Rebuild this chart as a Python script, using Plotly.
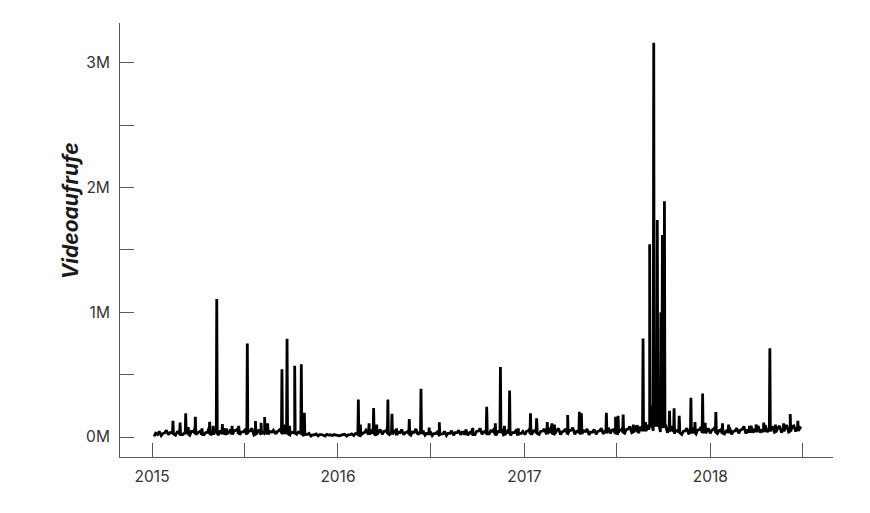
import pandas as pd
import plotly.graph_objects as go

# Weekly baseline of daily video views (thousands), starting 2015-01-05
base_start = "2015-01-05"
base_views_k = [
    # 2015
    5, 20, 12, 35, 18, 40, 15, 45, 20, 38, 14, 42, 25,
    48, 18, 40, 22, 45, 15, 50, 20, 40, 25, 55, 18,
    42, 20, 50, 15, 38, 22, 45, 18, 40, 25, 50, 20, 45,
    18, 40, 22, 35, 12, 22, 8, 18, 10, 20, 8, 16, 12, 18,
    # 2016
    10, 18, 8, 20, 12, 30, 15, 35, 20, 45, 18, 40, 22,
    45, 20, 38, 15, 35, 18, 40, 15, 38, 20, 42, 15,
    30, 12, 28, 10, 25, 12, 30, 15, 35, 18, 40, 15, 45,
    20, 48, 22, 50, 25, 45, 20, 50, 18, 42, 15, 35, 12, 30,
    # 2017
    20, 50, 25, 55, 22, 48, 28, 60, 25, 55, 20, 50, 28,
    55, 22, 50, 25, 45, 18, 40, 22, 50, 25, 55, 30,
    60, 28, 55, 30, 65, 35, 70, 40, 80, 45, 90, 50, 85,
    40, 75, 35, 60, 25, 55, 20, 50, 22, 55, 25, 60, 28, 45,
    # 2018
    30, 65, 28, 60, 25, 55, 22, 50, 30, 65, 28, 70, 35,
    75, 35, 80, 40, 70, 38, 75, 35, 80, 40, 85, 45, 70,
]

# Mid-week readings (thousands), starting 2015-01-08
mid_start = "2015-01-08"
mid_views_k = [
    # 2015
    30, 45, 28, 55, 35, 60, 40, 70, 30, 55, 45, 65, 38,
    60, 35, 75, 40, 55, 45, 70, 35, 60, 50, 65, 40,
    55, 45, 70, 35, 60, 40, 75, 45, 55, 38, 65, 42, 60,
    35, 55, 40, 50, 22, 30, 18, 25, 20, 15, 22, 18, 20, 15,
    # 2016
    15, 22, 18, 25, 28, 45, 30, 55, 40, 65, 35, 60, 45,
    70, 35, 55, 40, 60, 35, 55, 40, 65, 35, 50, 30,
    45, 28, 40, 25, 45, 30, 50, 35, 55, 40, 60, 35, 65,
    45, 70, 40, 75, 50, 70, 45, 65, 40, 60, 35, 50, 30, 45,
    # 2017
    45, 70, 50, 75, 45, 65, 50, 80, 45, 70, 40, 65, 50,
    75, 45, 70, 50, 65, 40, 60, 45, 70, 50, 75, 55,
    80, 55, 75, 60, 85, 70, 95, 75, 110, 90, 130, 85, 120,
    70, 100, 60, 85, 50, 75, 45, 70, 50, 75, 55, 80, 50, 70,
    # 2018
    55, 85, 50, 80, 50, 75, 45, 70, 55, 85, 60, 90, 65,
    90, 60, 95, 65, 85, 60, 90, 65, 95, 70, 90, 75, 85,
]

# Single-day peaks (thousands) and the level on the days around them
spike_dates = [
    "2015-02-11", "2015-02-25", "2015-03-08", "2015-03-13", "2015-03-27",
    "2015-04-09", "2015-04-24", "2015-05-01", "2015-05-08", "2015-05-19",
    "2015-05-27", "2015-06-07", "2015-06-20", "2015-07-07", "2015-07-23",
    "2015-08-03", "2015-08-10", "2015-08-16", "2015-08-31", "2015-09-13",
    "2015-09-18", "2015-09-23", "2015-09-28", "2015-10-08", "2015-10-21",
    "2015-10-27",
    "2016-02-10", "2016-02-14", "2016-03-02", "2016-03-11", "2016-03-17",
    "2016-04-08", "2016-04-16", "2016-04-25", "2016-05-20", "2016-06-12",
    "2016-06-28", "2016-07-18", "2016-09-06", "2016-09-21", "2016-10-19",
    "2016-11-05", "2016-11-15", "2016-11-23", "2016-12-03", "2016-12-20",
    "2017-01-13", "2017-01-25", "2017-02-15", "2017-02-24", "2017-03-01",
    "2017-03-27", "2017-04-19", "2017-04-23", "2017-06-11", "2017-06-29",
    "2017-07-04", "2017-07-14", "2017-08-03", "2017-08-12", "2017-08-22",
    "2017-08-27", "2017-09-01", "2017-09-04", "2017-09-08", "2017-09-12",
    "2017-09-15", "2017-09-19", "2017-09-22", "2017-09-26", "2017-09-29",
    "2017-10-03", "2017-10-13", "2017-10-22", "2017-11-01", "2017-11-24",
    "2017-12-02", "2017-12-17", "2017-12-22",
    "2018-01-12", "2018-01-25", "2018-02-06", "2018-03-19", "2018-04-01",
    "2018-04-16", "2018-04-28", "2018-05-09", "2018-05-25", "2018-06-07",
    "2018-06-22",
]
spike_views_k = [
    130, 117, 190, 80, 163,
    70, 123, 90, 1107, 104,
    70, 90, 90, 750, 128,
    115, 160, 110, 50, 543,
    100, 789, 90, 572, 583,
    195,
    300, 100, 110, 233, 100,
    300, 187, 70, 144, 388,
    75, 118, 50, 70, 243,
    110, 561, 90, 374, 70,
    190, 150, 120, 110, 100,
    176, 203, 190, 195, 163,
    170, 180, 100, 90, 790,
    120, 100, 1545, 250, 3162,
    400, 1740, 300, 1000, 1620,
    1890, 210, 230, 170, 315,
    120, 350, 115,
    200, 110, 100, 90, 100,
    115, 711, 100, 110, 184,
    130,
]
spike_floor_k = [
    25, 20, 25, 20, 25,
    20, 25, 20, 30, 20,
    25, 20, 25, 30, 20,
    25, 30, 20, 25, 30,
    25, 30, 20, 30, 25,
    20,
    15, 12, 20, 25, 20,
    25, 20, 15, 20, 25,
    15, 20, 15, 20, 25,
    20, 30, 20, 25, 15,
    25, 30, 25, 30, 25,
    30, 30, 25, 30, 30,
    35, 35, 40, 40, 45,
    50, 60, 80, 90, 120,
    100, 110, 90, 100, 90,
    80, 45, 40, 35, 30,
    30, 35, 30,
    35, 30, 30, 35, 40,
    40, 45, 40, 45, 45,
    50,
]

year_ticks = ["2015-01-01", "2015-07-01", "2016-01-01", "2016-07-01",
              "2017-01-01", "2017-07-01", "2018-01-01", "2018-07-01"]
year_labels = ["2015", "", "2016", "", "2017", "", "2018", ""]
y_ticks = [0, 500000, 1000000, 1500000, 2000000, 2500000, 3000000]
y_labels = ["0M", "", "1M", "", "2M", "", "3M"]

# ---- build the series ----
base_dates = pd.date_range(base_start, periods=len(base_views_k), freq="7D")
mid_dates = pd.date_range(mid_start, periods=len(mid_views_k), freq="7D")
rows = [(d, v * 1000) for d, v in zip(base_dates, base_views_k)]
rows += [(d, v * 1000) for d, v in zip(mid_dates, mid_views_k)]
one = pd.Timedelta(days=1)
for d, v, f in zip(spike_dates, spike_views_k, spike_floor_k):
    t = pd.Timestamp(d)
    rows += [(t - one, f * 1000), (t, v * 1000), (t + one, f * 1000)]
df = pd.DataFrame(rows, columns=["date", "views"]).sort_values("date", kind="stable")

fig = go.Figure(go.Scatter(
    x=df["date"], y=df["views"], mode="lines",
    line=dict(color="#000000", width=2.8),
    hoverinfo="skip",
))

axis_color = "#5a5a5a"
font_family = "Inter, Lato, 'Open Sans', sans-serif"

fig.update_layout(
    width=870, height=513,
    margin=dict(l=112, r=45, t=15, b=64),
    paper_bgcolor="white", plot_bgcolor="white",
    showlegend=False,
    font=dict(family=font_family, size=15, color="#333333"),
    xaxis=dict(
        range=["2014-10-30", "2018-08-30"],
        tickvals=year_ticks, ticktext=year_labels,
        ticks="inside", ticklen=14, tickwidth=1, tickcolor=axis_color,
        showline=True, linecolor=axis_color, linewidth=1,
        showgrid=False, zeroline=False,
        ticklabelstandoff=5,
        tickfont=dict(size=15.5, color="#333333"),
    ),
    yaxis=dict(
        range=[-160000, 3320000],
        tickvals=y_ticks, ticktext=y_labels,
        ticks="inside", ticklen=14, tickwidth=1, tickcolor=axis_color,
        showline=True, linecolor=axis_color, linewidth=1,
        showgrid=False, zeroline=False,
        ticklabelstandoff=6,
        tickfont=dict(size=15.5, color="#333333"),
    ),
    annotations=[dict(
        text="<b><i>Videoaufrufe</i></b>",
        xref="paper", yref="paper", x=-0.0701, y=0.566,
        xanchor="center", yanchor="middle", textangle=-90,
        showarrow=False,
        font=dict(family=font_family, size=21, color="#1a1a1a"),
    )],
)

fig.write_html("out.html")
